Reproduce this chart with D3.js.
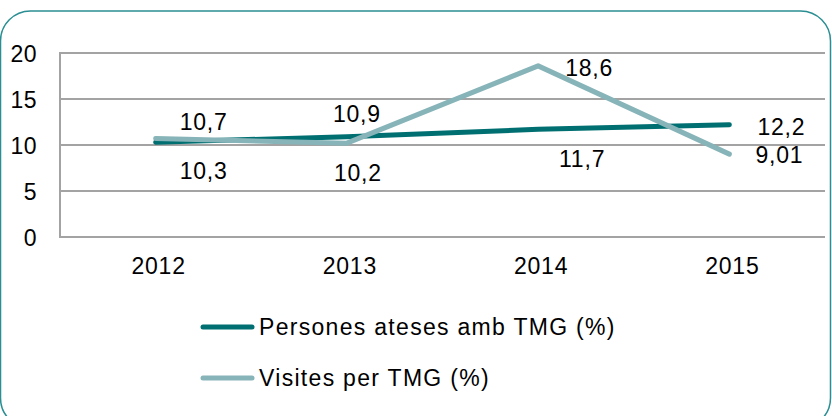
<!DOCTYPE html>
<html>
<head>
<meta charset="utf-8">
<script src="https://cdn.jsdelivr.net/npm/d3@7"></script>
<style>
  body { margin: 0; background: #fff; }
  svg { display: block; font-family: "Liberation Sans", Arial, sans-serif; }
</style>
</head>
<body>
<div id="chart"></div>
<script>
// data
var years = ["2012", "2013", "2014", "2015"];
var persones = [10.3, 10.9, 11.7, 12.2];
var visites = [10.7, 10.2, 18.6, 9.01];
var persLabels = ["10,3", "10,9", "11,7", "12,2"];
var visLabels = ["10,7", "10,2", "18,6", "9,01"];
var yTicks = [0, 5, 10, 15, 20];
var seriesNames = ["Persones ateses amb TMG (%)", "Visites per TMG (%)"];

var width = 832, height = 416;
var dark = "#006f71", light = "#87b4b8";
var fs = 23;

var svg = d3.select("#chart").append("svg")
    .attr("width", width)
    .attr("height", height);

// rounded frame
svg.append("rect")
    .attr("x", 0.5).attr("y", 11)
    .attr("width", 830).attr("height", 417)
    .attr("rx", 30).attr("ry", 30)
    .attr("fill", "none")
    .attr("stroke", "#2a8e93")
    .attr("stroke-width", 1.5);

var x = d3.scaleBand()
    .domain(years)
    .range([60, 825]);

var y = d3.scaleLinear()
    .domain([0, 20])
    .range([237, 53]);

// gridlines
svg.append("g").selectAll("line")
    .data(yTicks)
    .enter()
    .append("line")
    .attr("x1", 60).attr("x2", 825)
    .attr("y1", function(d){ return y(d); })
    .attr("y2", function(d){ return y(d); })
    .attr("stroke", "#a3a3a3")
    .attr("stroke-width", 2);

svg.append("line")
    .attr("x1", 60).attr("x2", 60)
    .attr("y1", y(0) + 1).attr("y2", y(20) - 1)
    .attr("stroke", "#a3a3a3")
    .attr("stroke-width", 2);

var yAxis = d3.axisLeft(y).tickValues(yTicks).tickSize(0).tickPadding(23);
var yAxisG = svg.append("g")
    .attr("transform", "translate(60,0)")
    .call(yAxis);
yAxisG.select(".domain").remove();
yAxisG.selectAll("text")
    .attr("font-size", fs)
    .attr("font-family", "Liberation Sans, Arial, sans-serif")
    .attr("fill", "#000")
    .attr("letter-spacing", "0.5px")
    .attr("dy", "0.36em");

var xAxis = d3.axisBottom(x).tickSize(0).tickPadding(23);
var xAxisG = svg.append("g")
    .attr("transform", "translate(0," + y(0) + ")")
    .call(xAxis);
xAxisG.select(".domain").remove();
xAxisG.selectAll("text")
    .attr("font-size", fs)
    .attr("font-family", "Liberation Sans, Arial, sans-serif")
    .attr("fill", "#000")
    .attr("letter-spacing", "0.8px")
    .attr("dx", "3px")
    .attr("dy", "0.62em");

var cx = function(i){ return x(years[i]) + x.bandwidth() / 2; };

var line = d3.line()
    .x(function(d, i){ return cx(i); })
    .y(function(d){ return y(d); });

svg.append("path")
    .datum(persones)
    .attr("d", line)
    .attr("fill", "none")
    .attr("stroke", dark)
    .attr("stroke-width", 5)
    .attr("stroke-linecap", "round")
    .attr("stroke-linejoin", "round");

svg.append("path")
    .datum(visites)
    .attr("d", line)
    .attr("fill", "none")
    .attr("stroke", light)
    .attr("stroke-width", 5)
    .attr("stroke-linecap", "round")
    .attr("stroke-linejoin", "round");

// data labels (offsets from each point)
var persOff = [[48, 28], [10, -23], [44, 29], [52, 2]];
var visOff = [[48, -17], [11, 30], [51, 2], [50, 1]];

var labelText = function(vals, labels, off){
    svg.append("g").selectAll("text")
	.data(vals)
	.enter()
	.append("text")
	.attr("x", function(d, i){ return cx(i) + off[i][0]; })
	.attr("y", function(d, i){ return y(d) + off[i][1]; })
	.attr("text-anchor", "middle")
	.attr("dy", "0.36em")
	.attr("font-size", fs)
	.attr("letter-spacing", "0.8px")
	.text(function(d, i){ return labels[i]; });
};
labelText(persones, persLabels, persOff);
labelText(visites, visLabels, visOff);

// legend
var legend = svg.append("g");
var legendRows = [{ name: seriesNames[0], color: dark, y: 327 },
		  { name: seriesNames[1], color: light, y: 378 }];
legend.selectAll("line")
    .data(legendRows)
    .enter()
    .append("line")
    .attr("x1", 203).attr("x2", 252)
    .attr("y1", function(d){ return d.y; })
    .attr("y2", function(d){ return d.y; })
    .attr("stroke", function(d){ return d.color; })
    .attr("stroke-width", 5)
    .attr("stroke-linecap", "round");
legend.selectAll("text")
    .data(legendRows)
    .enter()
    .append("text")
    .attr("x", 259)
    .attr("y", function(d){ return d.y; })
    .attr("dy", "0.36em")
    .attr("font-size", fs)
    .attr("letter-spacing", "1.3px")
    .text(function(d){ return d.name; });
</script>
</body>
</html>
